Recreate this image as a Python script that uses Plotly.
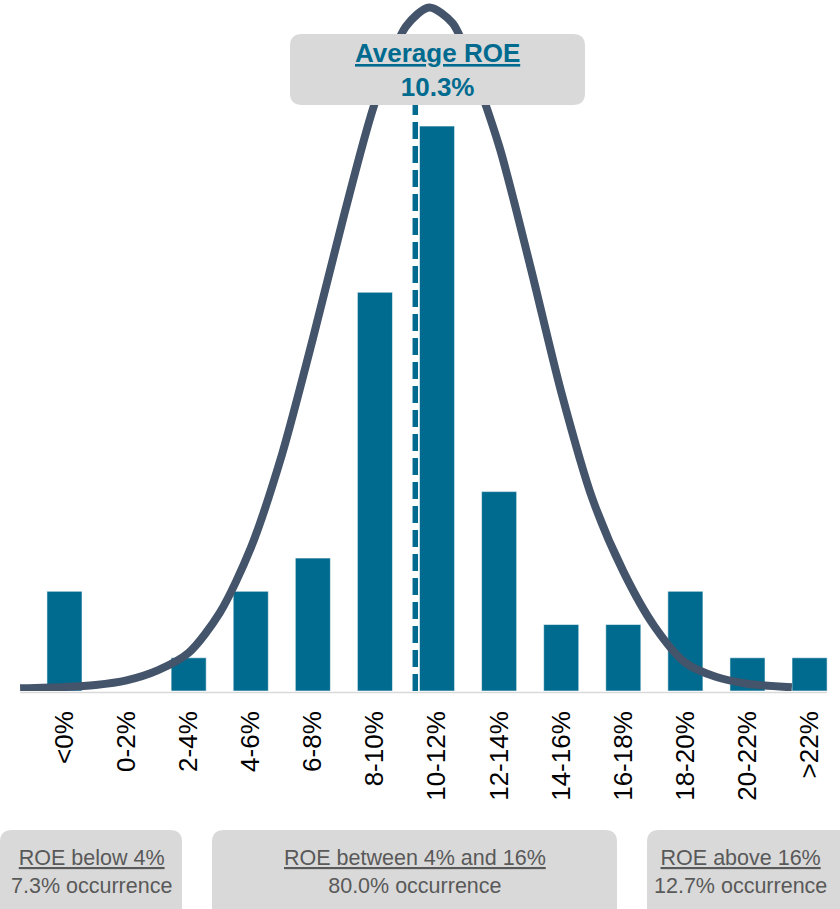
import plotly.graph_objects as go

# ROE distribution: bucket labels, bucket centres (ROE %) and number of observations
categories = ["<0%", "0-2%", "2-4%", "4-6%", "6-8%", "8-10%", "10-12%",
              "12-14%", "14-16%", "16-18%", "18-20%", "20-22%", ">22%"]
bucket_mid = [-1, 1, 3, 5, 7, 9, 11, 13, 15, 17, 19, 21, 23]
counts = [3, 0, 1, 3, 4, 12, 17, 6, 2, 2, 3, 1, 1]

AVG_ROE = 10.3

# fitted bell curve (ROE %, expected count)
curve_roe = [-2.43, -1, 0, 1, 2, 3, 4, 5, 6, 7, 8, 9, 10, 10.75, 11.5, 12,
             13, 14, 15, 16, 17, 18, 19, 20, 21, 22.43]
curve_count = [0.08, 0.12, 0.18, 0.32, 0.62, 1.15, 2.35, 4.3, 7.1, 10.6, 14.3,
               17.7, 20.0, 20.57, 20.1, 19.1, 16.4, 12.8, 9.0, 5.8, 3.6, 1.95,
               0.85, 0.42, 0.22, 0.11]

# ROE bands summarised under the chart: (title, lower bound, upper bound)
bands = [("ROE below 4%", None, 4), ("ROE between 4% and 16%", 4, 16),
         ("ROE above 16%", 16, None)]

TEAL = "#006B8F"
SLATE = "#44546A"
BOX = "#D9D9D9"
GREY_TXT = "#595959"
FONT = "Liberation Sans, Arial, sans-serif"

W, H = 840, 909
PLOT_BOTTOM = 691  # pixel row of the x axis


def px(x):
    return x / W


def py(y):
    return (PLOT_BOTTOM - y) / PLOT_BOTTOM


def rounded_box(x0, y0, x1, y1, r=12):
    """Rounded rectangle path in paper coordinates from pixel corners."""
    X0, X1 = px(x0), px(x1)
    Y0, Y1 = py(y0), py(y1)
    rx, ry = r / W, r / PLOT_BOTTOM
    pts = [
        f"M {X0 + rx},{Y0}",
        f"L {X1 - rx},{Y0}",
        f"Q {X1},{Y0} {X1},{Y0 - ry}",
        f"L {X1},{Y1 + ry}",
        f"Q {X1},{Y1} {X1 - rx},{Y1}",
        f"L {X0 + rx},{Y1}",
        f"Q {X0},{Y1} {X0},{Y1 + ry}",
        f"L {X0},{Y0 - ry}",
        f"Q {X0},{Y0} {X0 + rx},{Y0}",
        "Z",
    ]
    return dict(type="path", xref="paper", yref="paper", path=" ".join(pts),
                fillcolor=BOX, line=dict(width=0), layer="above")


fig = go.Figure()

fig.add_trace(go.Scatter(
    x=curve_roe, y=curve_count, mode="lines",
    line=dict(color=SLATE, width=8, shape="spline", smoothing=0.8),
    hoverinfo="skip", showlegend=False))

fig.add_trace(go.Bar(
    x=bucket_mid, y=counts, width=1.13,
    marker=dict(color=TEAL, line=dict(color="rgba(255,255,255,0.55)", width=1)),
    showlegend=False))

x_lo, x_hi = -3.077, 23.98
y_hi = PLOT_BOTTOM / 33.23

shapes = [
    dict(type="line", xref="x", yref="paper", x0=-2.43, x1=23.56,
         y0=-1.5 / PLOT_BOTTOM, y1=-1.5 / PLOT_BOTTOM,
         line=dict(color="#D9D9D9", width=1.5), layer="below"),
    dict(type="line", xref="x", yref="paper", x0=AVG_ROE, x1=AVG_ROE,
         y0=0, y1=py(70), line=dict(color=TEAL, width=5.5, dash="17px,7px"),
         layer="above"),
]

# average ROE call-out
shapes.append(rounded_box(290, 34, 585, 105))
annotations = [dict(
    xref="paper", yref="paper", x=px(437.5), y=py(70), xanchor="center",
    yanchor="middle", showarrow=False, align="center",
    text=f"<b><u>Average ROE</u></b><br><b>{AVG_ROE:.1f}%</b>",
    font=dict(family=FONT, size=26, color=TEAL))]

# band summaries under the axis
total = sum(counts)
band_boxes = [(0, 182), (212, 617), (647, 850)]
for (title, lo, hi), (bx0, bx1) in zip(bands, band_boxes):
    n = 0
    for m, c in zip(bucket_mid, counts):
        if (lo is None or m > lo) and (hi is None or m < hi):
            n += c
    share = 100 * n / total
    shapes.append(rounded_box(bx0, 830, bx1, 940))
    centre = (bx0 + W - 7) / 2 if bx1 > W else (bx0 + bx1) / 2
    annotations.append(dict(
        xref="paper", yref="paper", x=px(centre), y=py(872),
        xanchor="center", yanchor="middle", showarrow=False, align="center",
        text=f"<u>{title}</u><br>{share:.1f}% occurrence",
        font=dict(family=FONT, size=21.5, color=GREY_TXT)))

fig.update_layout(
    width=W, height=H,
    margin=dict(l=0, r=0, t=0, b=H - PLOT_BOTTOM, pad=0),
    paper_bgcolor="white", plot_bgcolor="white",
    bargap=0.44,
    shapes=shapes, annotations=annotations,
    xaxis=dict(range=[x_lo, x_hi], tickmode="array", tickvals=bucket_mid,
               ticktext=categories, tickangle=-90, ticks="",
               ticklabelstandoff=14, showgrid=False, zeroline=False,
               showline=False,
               tickfont=dict(family=FONT, size=26, color="#000000")),
    yaxis=dict(range=[0, y_hi], showgrid=False, zeroline=False,
               showticklabels=False, showline=False),
)

fig.write_html("out.html")
